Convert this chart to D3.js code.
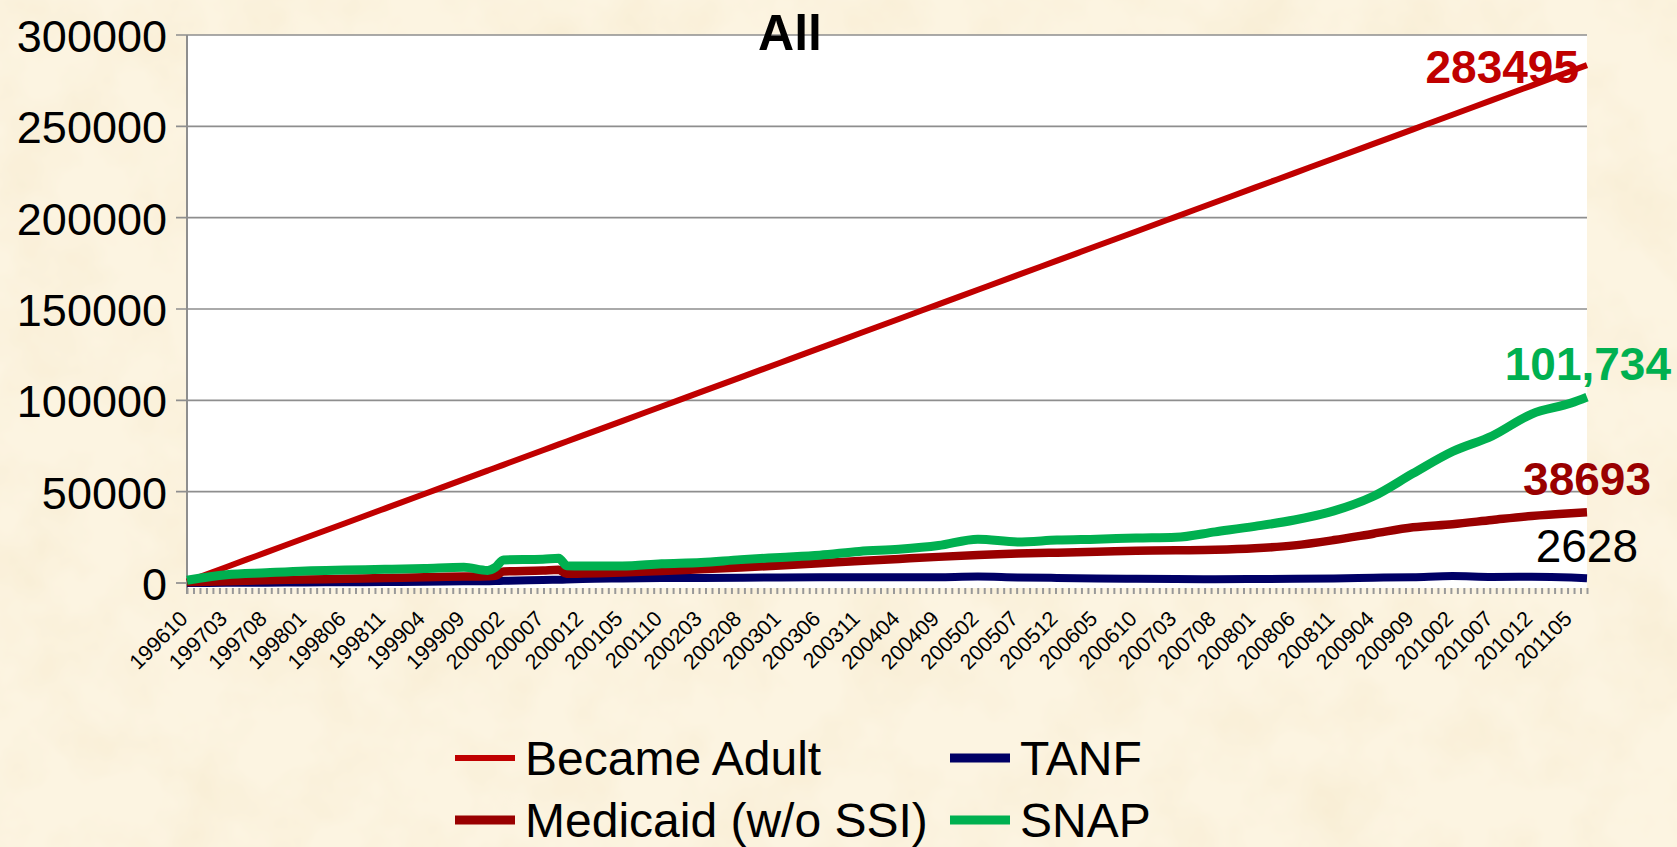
<!DOCTYPE html>
<meta charset="utf-8">
<style>
body { margin: 0; background: #fcf3df; overflow: hidden; }
text { font-family: "Liberation Sans", Arial, sans-serif; }
</style>
<body>
<script src="https://cdn.jsdelivr.net/npm/d3@7/dist/d3.min.js"></script>
<script>

var width = 1677,
    height = 847;

// category labels shown on the x axis (every 5th month)
var tickLabels = ["199610","199703","199708","199801","199806","199811","199904","199909",
  "200002","200007","200012","200105","200110","200203","200208","200301","200306","200311",
  "200404","200409","200502","200507","200512","200605","200610","200703","200708","200801",
  "200806","200811","200904","200909","201002","201007","201012","201105"];

var firstMonth = "199610", lastMonth = "201107";

var dates = ["199610","199703","199708","199801","199806","199811","199904","199909",
  "199912","200001","200002","200007","200009","200010","200012","200105","200110","200203",
  "200208","200301","200306","200311","200404","200409","200502","200507","200512","200605",
  "200610","200703","200708","200801","200806","200811","200904","200909","201002","201007",
  "201012","201105","201107"];

var becameAdult = [800, 8790, 16770, 24760, 32740, 40730, 48720, 56700, 61500, 63100, 64690,
  72670, 75870, 77470, 80660, 88650, 96630, 104620, 112600, 120590, 128580, 136560, 144550,
  152530, 160520, 168510, 176490, 184480, 192460, 200450, 208440, 216420, 224410, 232390,
  240380, 248370, 256350, 264340, 272320, 280310, 283495];

var medicaid = [500, 1000, 1500, 1900, 2300, 2700, 3200, 3500, 3700, 3900, 6300, 6800, 7200,
  5000, 5200, 5700, 6600, 7500, 8500, 9600, 10800, 12100, 13200, 14300, 15300, 16100, 16600,
  17100, 17600, 17900, 18200, 19000, 20600, 23500, 27000, 30500, 32200, 34500, 36700, 38200,
  38693];

var tanf = [0, 100, 200, 300, 400, 500, 700, 900, 1000, 1100, 1200, 1600, 1800, 1900, 2200,
  2500, 2700, 2800, 2900, 3000, 3100, 3200, 3100, 3200, 3500, 3000, 2800, 2500, 2300, 2200,
  2100, 2200, 2300, 2500, 2900, 3200, 3800, 3300, 3400, 3000, 2628];

var snap = [1500, 4500, 5600, 6600, 7100, 7500, 8000, 8600, 6900, 8600, 12600, 13000, 13600,
  9500, 9300, 9300, 10500, 11200, 12800, 14000, 15200, 17300, 18500, 20500, 24000, 22500,
  23500, 24000, 24600, 25000, 28000, 31000, 34500, 39500, 47500, 60000, 72000, 80500, 92500,
  98500, 101734];

var yTicks = [0, 50000, 100000, 150000, 200000, 250000, 300000];
var endLabels = ["283495", "38693", "2628", "101,734"];

function monthIndex(s) {
  return (+s.slice(0, 4) - +firstMonth.slice(0, 4)) * 12 + (+s.slice(4) - +firstMonth.slice(4));
}

var margin = {left: 187, right: 1587, top: 35, bottom: 583};

var x = d3.scaleLinear()
    .domain([0, monthIndex(lastMonth)])
    .range([margin.left, margin.right]);

var y = d3.scaleLinear()
    .domain([0, 300000])
    .range([margin.bottom, margin.top]);

var svg = d3.select("body").append("svg")
    .attr("width", width)
    .attr("height", height);

// parchment background
var defs = svg.append("defs");
var f = defs.append("filter").attr("id", "paper")
    .attr("x", 0).attr("y", 0).attr("width", "100%").attr("height", "100%");
f.append("feTurbulence").attr("type", "fractalNoise")
    .attr("baseFrequency", "0.013").attr("numOctaves", 4).attr("seed", 7);
f.append("feColorMatrix").attr("type", "matrix")
    .attr("values", "0 0 0 0 0.94  0 0 0 0 0.85  0 0 0 0 0.66  1.8 0 0 0 -0.7");

svg.append("rect").attr("width", width).attr("height", height).attr("fill", "#fcf4e1");
svg.append("rect").attr("width", width).attr("height", height).attr("filter", "url(#paper)");

// plot area
svg.append("rect")
    .attr("x", margin.left).attr("y", margin.top)
    .attr("width", margin.right - margin.left)
    .attr("height", 588 - margin.top)
    .attr("fill", "#fff");

// gridlines + y axis
svg.append("g").selectAll("line")
    .data(yTicks.filter(function(d) { return d > 0; }))
  .enter().append("line")
    .attr("x1", 176).attr("x2", margin.right)
    .attr("y1", function(d) { return y(d); })
    .attr("y2", function(d) { return y(d); })
    .attr("stroke", "#8e8e8e").attr("stroke-width", 1.7);

svg.append("line")
    .attr("x1", 176).attr("x2", margin.left)
    .attr("y1", y(0)).attr("y2", y(0))
    .attr("stroke", "#8e8e8e").attr("stroke-width", 1.7);

svg.append("line")
    .attr("x1", margin.left).attr("x2", margin.left)
    .attr("y1", margin.top).attr("y2", 594)
    .attr("stroke", "#8e8e8e").attr("stroke-width", 2);

svg.append("g").selectAll("text")
    .data(yTicks)
  .enter().append("text")
    .attr("x", 167)
    .attr("y", function(d) { return y(d) + 17; })
    .attr("text-anchor", "end")
    .attr("font-size", 45)
    .attr("fill", "#000")
    .text(function(d) { return d; });

// x axis minor ticks
var nTicks = 216;
var xAxis = d3.axisBottom(x)
    .tickValues(d3.range(nTicks + 1).map(function(i) { return i * monthIndex(lastMonth) / nTicks; }))
    .tickSize(6)
    .tickFormat("");
var gx = svg.append("g").attr("transform", "translate(0,588)").call(xAxis);
gx.select(".domain").remove();
gx.selectAll(".tick line").attr("stroke", "#999").attr("stroke-width", 2);

svg.append("g").selectAll("text")
    .data(tickLabels)
  .enter().append("text")
    .attr("transform", function(d) { return "translate(" + (x(monthIndex(d)) + 2) + ",620) rotate(-45)"; })
    .attr("text-anchor", "end")
    .attr("font-size", 21.5)
    .attr("fill", "#000")
    .text(function(d) { return d; });

// series
var series = [
  {name: "Became Adult", values: becameAdult, color: "#c00000", w: 6},
  {name: "TANF", values: tanf, color: "#000066", w: 8},
  {name: "Medicaid (w/o SSI)", values: medicaid, color: "#990000", w: 8.5},
  {name: "SNAP", values: snap, color: "#00b050", w: 9}
];

var line = d3.line()
    .x(function(d, i) { return x(monthIndex(dates[i])); })
    .y(function(d) { return y(d); })
    .curve(d3.curveMonotoneX);

svg.append("g").selectAll("path")
    .data(series)
  .enter().append("path")
    .attr("d", function(d) { return line(d.values); })
    .attr("fill", "none")
    .attr("stroke", function(d) { return d.color; })
    .attr("stroke-width", function(d) { return d.w; })
    .attr("stroke-linejoin", "round");

// end value labels
var ends = [
  {text: endLabels[0], x: 1579, y: 83, color: "#c00000", bold: true},
  {text: endLabels[1], x: 1651, y: 495, color: "#990000", bold: true},
  {text: endLabels[2], x: 1638, y: 562, color: "#000", bold: false},
  {text: endLabels[3], x: 1671, y: 380, color: "#00b050", bold: true}
];
svg.append("g").selectAll("text")
    .data(ends)
  .enter().append("text")
    .attr("x", function(d) { return d.x; })
    .attr("y", function(d) { return d.y; })
    .attr("text-anchor", "end")
    .attr("font-size", 46)
    .attr("font-weight", function(d) { return d.bold ? "bold" : "normal"; })
    .attr("fill", function(d) { return d.color; })
    .text(function(d) { return d.text; });

// title
svg.append("text")
    .attr("x", 790).attr("y", 50)
    .attr("text-anchor", "middle")
    .attr("font-size", 50)
    .attr("font-weight", "bold")
    .text("All");

// legend
var legendPos = [
  {s: 0, x: 455, y: 758},
  {s: 2, x: 455, y: 820},
  {s: 1, x: 950, y: 758},
  {s: 3, x: 950, y: 820}
];
var lg = svg.append("g").selectAll("g")
    .data(legendPos)
  .enter().append("g")
    .attr("transform", function(d) { return "translate(" + d.x + "," + d.y + ")"; });
lg.append("line")
    .attr("x1", 0).attr("x2", 60)
    .attr("stroke", function(d) { return series[d.s].color; })
    .attr("stroke-width", function(d) { return d.s === 0 ? 6 : 9; });
lg.append("text")
    .attr("x", 70).attr("y", 17)
    .attr("font-size", 48)
    .text(function(d) { return series[d.s].name; });

</script>
</body>
